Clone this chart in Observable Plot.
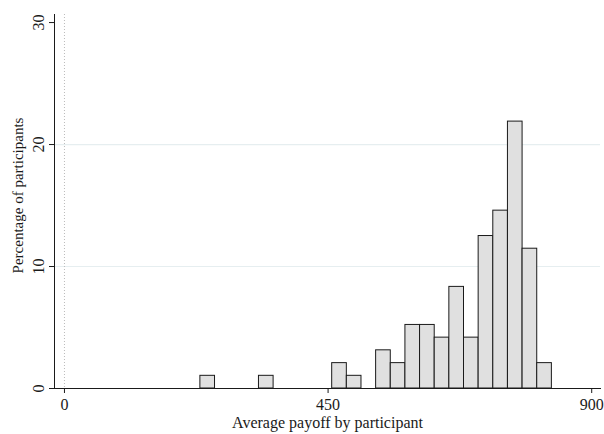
<!DOCTYPE html>
<html>
<head>
<meta charset="utf-8">
<script src="https://cdn.jsdelivr.net/npm/d3@7"></script>
<script src="https://cdn.jsdelivr.net/npm/@observablehq/plot@0.6"></script>
<style>
  html, body { margin: 0; padding: 0; background: #ffffff; }
  #chart { width: 604px; height: 434px; }
  svg { display: block; }
</style>
</head>
<body>
<div id="chart"></div>
<script>
// Histogram bins (average payoff), lower and upper edges
const binStart = [232, 332, 457, 482, 532, 557, 582, 607, 632, 657, 682, 707, 732, 757, 782, 807];
const binEnd   = [257, 357, 482, 507, 557, 582, 607, 632, 657, 682, 707, 732, 757, 782, 807, 832];
// Percentage of participants in each bin
const percent  = [1.04, 1.04, 2.08, 1.04, 3.13, 2.08, 5.21, 5.21, 4.17, 8.33, 4.17, 12.5, 14.58, 21.88, 11.46, 2.08];

const xTicks = [0, 450, 900];
const yTicks = [0, 10, 20, 30];
const yGrid = [10, 20];
const xLabel = "Average payoff by participant";
const yLabel = "Percentage of participants";

const bars = binStart.map((s, i) => ({x1: s, x2: binEnd[i], y: percent[i]}));

const font = "'Liberation Serif', 'Times New Roman', serif";
const ink = "#1a1a1a";
const fs = 16;

const chart = Plot.plot({
  width: 604,
  height: 434,
  marginLeft: 54,
  marginRight: 4,
  marginTop: 14,
  marginBottom: 46,
  style: {fontFamily: font, fontSize: fs + "px", color: ink, background: "#ffffff"},
  x: {domain: [-17, 915], axis: null},
  y: {domain: [0, 30.66], axis: null},
  marks: [
    // grid lines
    Plot.ruleY(yGrid, {stroke: "#e6eef0", strokeWidth: 1.2}),
    Plot.ruleX([0], {stroke: "#bbbbbb", strokeDasharray: "1,2", strokeWidth: 1}),
    // bars
    Plot.rectY(bars, {x1: "x1", x2: "x2", y: "y", fill: "#e0e0e0", stroke: ink, strokeWidth: 1, inset: 0}),
    // axis lines
    Plot.frame({anchor: "left", stroke: ink, strokeWidth: 1}),
    Plot.frame({anchor: "bottom", stroke: ink, strokeWidth: 1}),
    // x axis
    Plot.axisX(xTicks, {tickSize: 5, tickPadding: 5, fontSize: fs, label: null, stroke: ink, fill: ink}),
    Plot.text([xLabel], {frameAnchor: "bottom", dy: 34, fontSize: fs, fill: ink, textAnchor: "middle", lineAnchor: "middle"}),
    // y axis
    Plot.axisY(yTicks, {tickSize: 5, tickFormat: () => "", label: null, stroke: ink}),
    Plot.text(yTicks, {y: d => d, frameAnchor: "left", dx: -16, rotate: -90, text: d => String(d), fontSize: fs, fill: ink, lineAnchor: "middle", textAnchor: "middle"}),
    Plot.text([yLabel], {frameAnchor: "left", dx: -36, dy: -6, rotate: -90, fontSize: fs - 1, fill: ink, lineAnchor: "middle", textAnchor: "middle"})
  ]
});
document.getElementById("chart").appendChild(chart);
</script>
</body>
</html>
